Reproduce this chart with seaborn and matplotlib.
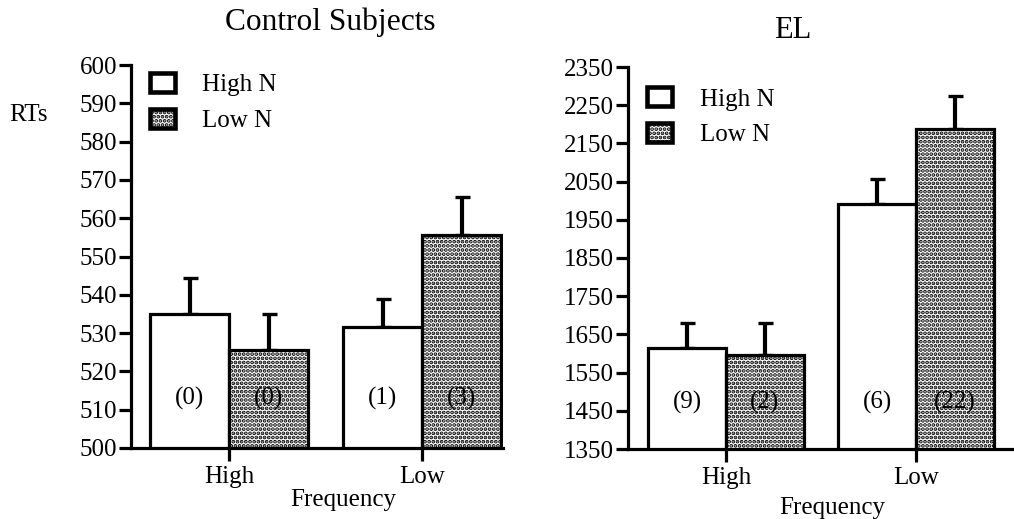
import matplotlib
matplotlib.use("Agg")
import matplotlib.pyplot as plt
import seaborn as sns
import pandas as pd
import numpy as np
from matplotlib.patches import Patch

# ---- data ----
frequency = ["High", "Low"]
neighborhood = ["High N", "Low N"]

control_high_n = [535.0, 531.5]
control_low_n = [525.5, 555.5]
control_err_high_n = [9.5, 7.5]
control_err_low_n = [9.5, 10.0]
control_counts_high_n = ["(0)", "(1)"]
control_counts_low_n = ["(0)", "(3)"]

el_high_n = [1615.0, 1991.0]
el_low_n = [1595.0, 2189.0]
el_err_high_n = [66.0, 66.0]
el_err_low_n = [86.0, 85.0]
el_counts_high_n = ["(9)", "(6)"]
el_counts_low_n = ["(2)", "(22)"]

control_ticks = [500, 510, 520, 530, 540, 550, 560, 570, 580, 590, 600]
el_ticks = [1350, 1450, 1550, 1650, 1750, 1850, 1950, 2050, 2150, 2250, 2350]

sns.set_style("ticks")
plt.rcParams["font.family"] = ["Liberation Serif", "DejaVu Serif"]
plt.rcParams["hatch.linewidth"] = 1.9
plt.rcParams["axes.edgecolor"] = "black"
plt.rcParams["xtick.color"] = "black"
plt.rcParams["ytick.color"] = "black"
plt.rcParams["text.color"] = "black"
plt.rcParams["axes.labelcolor"] = "black"

fig = plt.figure(figsize=(10.14, 5.19), dpi=100)
ax1 = fig.add_axes([131/1014, 1-448/519, 372/1014, 383/519])
ax2 = fig.add_axes([628/1014, 1-449/519, 386/1014, 382/519])

LW = 2.3
FS = 18


def panel(ax, hn, ln, ehn, eln, chn, cln, ticks, xlim, label_y, leg_anchor):
    df = pd.DataFrame({
        "Frequency": frequency * 2,
        "N": [neighborhood[0]] * 2 + [neighborhood[1]] * 2,
        "RT": list(hn) + list(ln),
    })
    errs = list(ehn) + list(eln)
    counts = list(chn) + list(cln)
    sns.barplot(data=df, x="Frequency", y="RT", hue="N", order=frequency,
                hue_order=neighborhood, palette=["white", "white"],
                width=0.82, errorbar=None, edgecolor="black", linewidth=LW,
                ax=ax, legend=False, zorder=2)
    bars = [p for p in ax.patches]
    # bars order: hue0 cat0, hue0 cat1, hue1 cat0, hue1 cat1
    for i, p in enumerate(bars):
        if i >= 2:
            p.set_hatch("....")
    xs = [p.get_x() + p.get_width() / 2 for p in bars]
    ys = [p.get_height() + p.get_y() for p in bars]
    ax.errorbar(xs, ys, yerr=[np.zeros(len(errs)), errs], fmt="none",
                ecolor="black", elinewidth=3.0, capsize=5.4, capthick=2.4,
                zorder=1)
    for x, c in zip(xs, counts):
        ax.text(x, label_y, c, ha="center", va="center", fontsize=FS, zorder=5)
    ax.set_ylim(ticks[0], ticks[-1])
    ax.set_yticks(ticks)
    ax.set_yticklabels([str(t) for t in ticks])
    ax.set_xlim(*xlim)
    ax.set_xlabel("")
    ax.set_ylabel("")
    sns.despine(ax=ax)
    for s in ["left", "bottom"]:
        ax.spines[s].set_linewidth(LW)
        ax.spines[s].set_zorder(6)
    ax.tick_params(axis="both", width=LW, length=9, labelsize=FS, color="black")
    ax.tick_params(axis="y", pad=1)
    ax.tick_params(axis="x", pad=4)
    handles = [Patch(facecolor="white", edgecolor="black", linewidth=LW + 1),
               Patch(facecolor="white", edgecolor="black", linewidth=LW + 1, hatch="....")]
    ax.legend(handles, neighborhood, loc="upper left", bbox_to_anchor=leg_anchor,
              frameon=False, fontsize=FS, handlelength=1.0, handleheight=0.8,
              handletextpad=1.1, labelspacing=0.5, borderaxespad=0.0)


panel(ax1, control_high_n, control_low_n, control_err_high_n, control_err_low_n,
      control_counts_high_n, control_counts_low_n, control_ticks, (-0.51, 1.42), 513,
      (0.023, 1.005))
panel(ax2, el_high_n, el_low_n, el_err_high_n, el_err_low_n,
      el_counts_high_n, el_counts_low_n, el_ticks, (-0.516, 1.516), 1473,
      (0.024, 0.973))

fig.text(330/1014, 1-22/519, "Control Subjects", ha="center", va="center", fontsize=22.6)
fig.text(793/1014, 1-30/519, "EL", ha="center", va="center", fontsize=22)
fig.text(28/1014, 1-115/519, "RTs", ha="center", va="center", fontsize=FS)
fig.text(343/1014, 1-500/519, "Frequency", ha="center", va="center", fontsize=FS)
fig.text(832/1014, 1-508/519, "Frequency", ha="center", va="center", fontsize=FS)

fig.savefig("out.png", dpi=100)
